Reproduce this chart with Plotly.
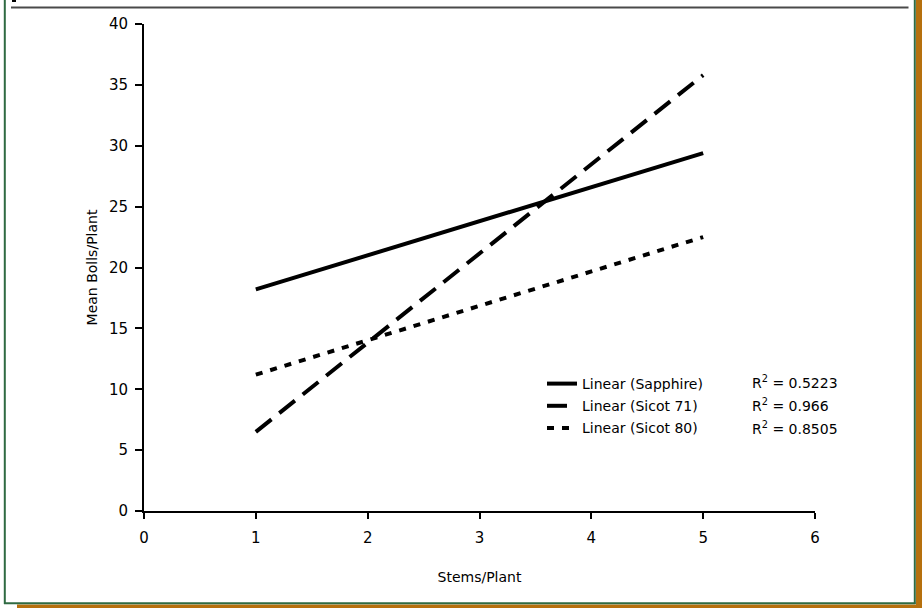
import plotly.graph_objects as go

# Data (trend line endpoints)
stems = [1, 5]
sapphire = [18.2, 29.4]
sicot71 = [6.5, 35.8]
sicot80 = [11.2, 22.5]
series_names = ["Linear (Sapphire)", "Linear (Sicot 71)", "Linear (Sicot 80)"]
r2_values = ["0.5223", "0.966", "0.8505"]
x_ticks = [0, 1, 2, 3, 4, 5, 6]
y_ticks = [0, 5, 10, 15, 20, 25, 30, 35, 40]

W, H = 922, 608
L, R, T, B = 144, 107, 24, 97
PW, PH = W - L - R, H - T - B


def px(x):
    return (x - L) / PW


def py(y):
    return (H - B - y) / PH


FONT = "DejaVu Sans, Arial, sans-serif"

fig = go.Figure()
styles = [
    dict(color="black", width=4, dash="solid"),
    dict(color="black", width=4, dash="20px,10px"),
    dict(color="black", width=4, dash="7px,8px"),
]
for i, (name, ys, st) in enumerate(zip(series_names, [sapphire, sicot71, sicot80], styles)):
    fig.add_trace(go.Scatter(x=stems, y=ys, mode="lines", name=name, line=st, legendgroup=f"g{i}"))

shapes = []
# orange shadow bands
shapes.append(dict(type="rect", xref="paper", yref="paper", x0=px(916), x1=px(923), y0=py(609), y1=py(-1),
                   fillcolor="#B6700D", line=dict(width=0), layer="above"))
shapes.append(dict(type="rect", xref="paper", yref="paper", x0=px(17), x1=px(923), y0=py(609), y1=py(604.5),
                   fillcolor="#B6700D", line=dict(width=0), layer="above"))
# green frame lines
shapes.append(dict(type="line", xref="paper", yref="paper", x0=px(4.8), x1=px(4.8), y0=py(-1), y1=py(604),
                   line=dict(color="#2F6A42", width=2)))
shapes.append(dict(type="line", xref="paper", yref="paper", x0=px(4), x1=px(915.5), y0=py(603.3), y1=py(603.3),
                   line=dict(color="#2F6A42", width=2)))
shapes.append(dict(type="line", xref="paper", yref="paper", x0=px(914.8), x1=px(914.8), y0=py(-1), y1=py(604),
                   line=dict(color="#2F6A42", width=2)))
# top dark line
shapes.append(dict(type="line", xref="paper", yref="paper", x0=px(11), x1=px(908.5), y0=py(7.5), y1=py(7.5),
                   line=dict(color="#4A4A4A", width=2)))
# small black mark top-left
shapes.append(dict(type="rect", xref="paper", yref="paper", x0=px(12), x1=px(16), y0=py(2), y1=py(-1),
                   fillcolor="black", line=dict(width=0)))

annotations = []
row_y = [382, 405, 428]
for r2, yy in zip(r2_values, row_y):
    annotations.append(dict(xref="paper", yref="paper", x=px(750), y=py(yy), xanchor="left", yanchor="middle",
                            text="R<sup>2</sup> = " + r2, showarrow=False,
                            font=dict(family=FONT, size=14, color="black")))

fig.update_layout(
    width=W, height=H,
    margin=dict(l=L, r=R, t=T, b=B),
    paper_bgcolor="white", plot_bgcolor="white",
    showlegend=True,
    legend=dict(x=px(542), y=py(368), xanchor="left", yanchor="top",
                font=dict(family=FONT, size=14, color="black"),
                bgcolor="rgba(0,0,0,0)", tracegroupgap=1, itemwidth=30),
    shapes=shapes,
    annotations=annotations,
    font=dict(family=FONT, color="black"),
)
fig.update_xaxes(range=[0, 6], tickvals=x_ticks, showline=True, linecolor="black", linewidth=2,
                 ticks="outside", ticklen=6, tickwidth=2, tickcolor="black", showgrid=False, zeroline=False,
                 ticklabelstandoff=6,
                 tickfont=dict(family=FONT, size=15, color="black"),
                 title=dict(text="Stems/Plant", font=dict(family=FONT, size=14, color="black"), standoff=26))
fig.update_yaxes(range=[0, 40], tickvals=y_ticks, showline=True, linecolor="black", linewidth=2,
                 ticks="outside", ticklen=7, tickwidth=2, tickcolor="black", showgrid=False, zeroline=False,
                 ticklabelstandoff=4,
                 tickfont=dict(family=FONT, size=15, color="black"),
                 title=dict(text="Mean Bolls/Plant", font=dict(family=FONT, size=14, color="black"), standoff=8))

fig.write_html("out.html", config={"displayModeBar": False},
               post_script="document.body.style.margin='0';document.body.style.overflow='hidden';")
